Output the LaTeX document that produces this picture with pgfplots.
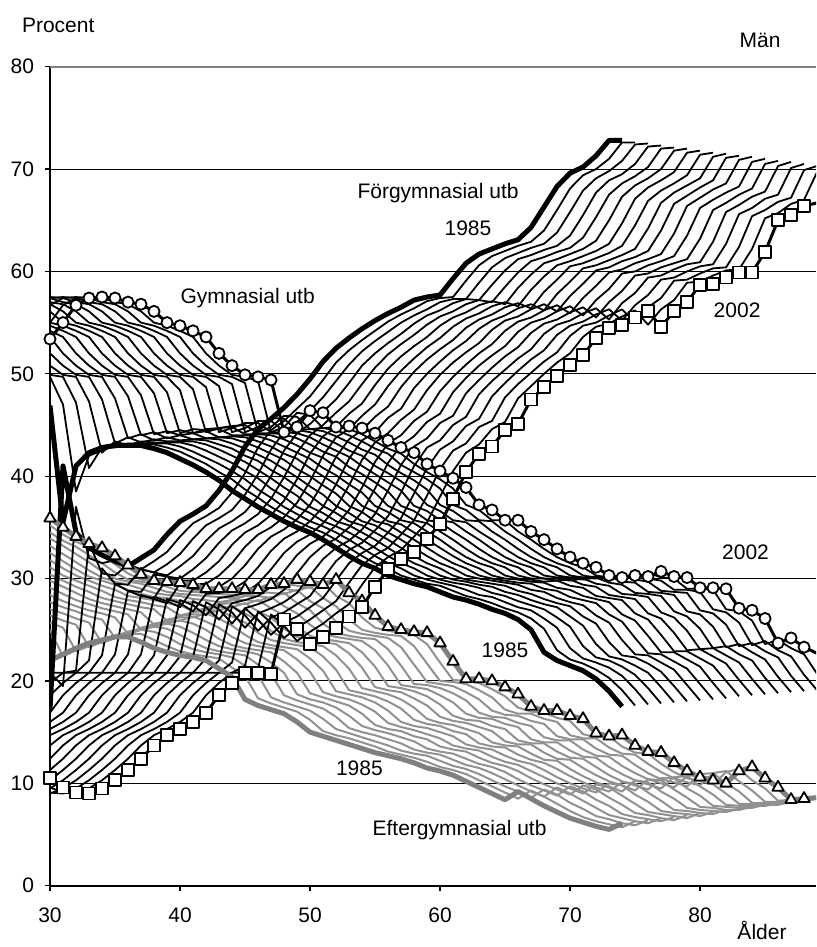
\documentclass[border=0pt]{standalone}
\usepackage{fontspec}
\setmainfont{Liberation Sans}
\usepackage{pgfplots}
\usepackage{pgfplotstable}
\pgfplotsset{compat=1.18}
\definecolor{thingray}{RGB}{145,145,145}
\definecolor{thickgray}{RGB}{128,128,128}
% rows: t = age in 1985 (cohort index); column yk = value in year 1985+k, plotted at age t+k
\pgfplotstableread{
t y0 y1 y2 y3 y4 y5 y6 y7 y8 y9 y10 y11 y12 y13 y14 y15 y16 y17
13 nan nan nan nan nan nan nan nan nan nan nan nan nan nan nan nan nan 10.5
14 nan nan nan nan nan nan nan nan nan nan nan nan nan nan nan nan 9.6 9.6
15 nan nan nan nan nan nan nan nan nan nan nan nan nan nan nan 9.1 9.1 9.1
16 nan nan nan nan nan nan nan nan nan nan nan nan nan nan 9.0 9.0 9.0 9.0
17 nan nan nan nan nan nan nan nan nan nan nan nan nan 9.5 9.5 9.5 9.5 9.5
18 nan nan nan nan nan nan nan nan nan nan nan nan 10.3 10.3 10.3 10.3 10.3 10.3
19 nan nan nan nan nan nan nan nan nan nan nan 11.3 11.3 11.3 11.3 11.3 11.3 11.3
20 nan nan nan nan nan nan nan nan nan nan 12.4 12.4 12.4 12.4 12.4 12.4 12.4 12.4
21 nan nan nan nan nan nan nan nan nan 13.7 13.7 13.7 13.7 13.7 13.7 13.7 13.7 13.7
22 nan nan nan nan nan nan nan nan 14.7 14.7 14.7 14.7 14.7 14.7 14.7 14.7 14.7 14.7
23 nan nan nan nan nan nan nan 15.3 15.3 15.3 15.3 15.3 15.3 15.3 15.3 15.3 15.3 15.3
24 nan nan nan nan nan nan 16.0 16.0 16.0 16.0 16.0 16.0 16.0 16.0 16.0 16.0 16.0 16.0
25 nan nan nan nan nan 16.9 16.9 16.9 16.9 16.9 16.9 16.9 16.9 16.9 16.9 16.9 16.9 16.9
26 nan nan nan nan 18.6 18.6 18.6 18.6 18.6 18.6 18.6 18.6 18.6 18.6 18.6 18.6 18.6 18.6
27 nan nan nan 19.8 19.8 19.8 19.8 19.8 19.8 19.8 19.8 19.8 19.8 19.8 19.8 19.8 19.8 19.8
28 nan nan 20.8 20.8 20.8 20.8 20.8 20.8 20.8 20.8 20.8 20.8 20.8 20.8 20.8 20.8 20.8 20.8
29 nan 20.8 20.8 20.8 20.8 20.8 20.8 20.8 20.8 20.8 20.8 20.8 20.8 20.8 20.8 20.8 20.8 20.8
30 17.2 19.5 21.0 22.0 22.5 22.6 22.6 22.6 22.5 22.5 22.4 22.3 22.2 22.0 21.8 21.5 21.2 20.7
31 41.0 37.0 33.5 31.0 29.5 28.8 28.4 28.2 28.0 27.9 27.8 27.7 27.5 27.3 27.1 26.8 26.5 26.0
32 34.5 32.0 30.5 29.5 28.8 28.3 28.0 27.8 27.6 27.4 27.2 27.0 26.7 26.4 26.0 25.7 25.4 25.1
33 33.0 31.5 30.3 29.4 28.7 28.1 27.6 27.2 26.8 26.4 26.0 25.6 25.2 24.9 24.5 24.2 23.9 23.6
34 32.3 31.8 31.4 30.9 30.4 30.0 29.5 29.0 28.5 28.1 27.6 27.1 26.6 26.2 25.7 25.2 24.8 24.3
35 31.7 31.3 30.9 30.6 30.2 29.8 29.4 29.0 28.6 28.3 27.9 27.5 27.1 26.7 26.3 26.0 25.6 25.2
36 31.2 30.9 30.6 30.3 30.0 29.8 29.5 29.2 28.9 28.6 28.3 28.0 27.7 27.5 27.2 26.9 26.6 26.3
37 32.0 31.7 31.4 31.2 30.9 30.6 30.3 30.0 29.7 29.5 29.2 28.9 28.6 28.3 28.1 27.8 27.5 27.2
38 32.8 32.6 32.4 32.2 32.0 31.7 31.5 31.3 31.1 30.9 30.7 30.5 30.3 30.0 29.8 29.6 29.4 29.2
39 34.3 34.1 33.9 33.7 33.5 33.3 33.1 32.9 32.7 32.5 32.3 32.1 31.9 31.7 31.5 31.3 31.1 30.9
40 35.6 35.4 35.2 34.9 34.7 34.5 34.3 34.1 33.9 33.6 33.4 33.2 33.0 32.8 32.5 32.3 32.1 31.9
41 36.3 36.1 35.9 35.6 35.4 35.2 35.0 34.8 34.6 34.3 34.1 33.9 33.7 33.5 33.2 33.0 32.8 32.6
42 37.1 36.9 36.7 36.5 36.3 36.2 36.0 35.8 35.6 35.4 35.2 35.0 34.8 34.7 34.5 34.3 34.1 33.9
43 38.6 38.4 38.2 38.0 37.8 37.6 37.4 37.2 37.0 36.9 36.7 36.5 36.3 36.1 35.9 35.7 35.5 35.3
44 40.5 40.3 40.2 40.0 39.9 39.7 39.5 39.4 39.2 39.1 38.9 38.8 38.6 38.4 38.3 38.1 38.0 37.8
45 42.9 42.8 42.6 42.5 42.3 42.2 42.0 41.9 41.7 41.6 41.4 41.3 41.1 41.0 40.8 40.7 40.5 40.4
46 44.6 44.5 44.3 44.2 44.0 43.9 43.8 43.6 43.5 43.3 43.2 43.0 42.9 42.8 42.6 42.5 42.3 42.2
47 45.6 45.4 45.3 45.1 45.0 44.8 44.6 44.5 44.3 44.2 44.0 43.9 43.7 43.5 43.4 43.2 43.1 42.9
48 46.7 46.6 46.4 46.3 46.2 46.1 45.9 45.8 45.7 45.5 45.4 45.3 45.2 45.0 44.9 44.8 44.6 44.5
49 48.0 47.8 47.7 47.5 47.3 47.1 47.0 46.8 46.6 46.5 46.3 46.1 45.9 45.8 45.6 45.4 45.3 45.1
50 49.5 49.4 49.3 49.1 49.0 48.9 48.8 48.7 48.6 48.4 48.3 48.2 48.1 48.0 47.8 47.7 47.6 47.5
51 51.2 51.1 50.9 50.8 50.6 50.5 50.3 50.2 50.0 49.9 49.7 49.6 49.4 49.3 49.1 49.0 48.8 48.7
52 52.5 52.3 52.2 52.0 51.9 51.7 51.5 51.4 51.2 51.1 50.9 50.8 50.6 50.4 50.3 50.1 50.0 49.8
53 53.5 53.3 53.2 53.0 52.9 52.7 52.6 52.4 52.3 52.1 52.0 51.8 51.7 51.5 51.4 51.2 51.1 50.9
54 54.4 54.2 54.1 53.9 53.8 53.6 53.5 53.3 53.2 53.0 52.9 52.7 52.6 52.4 52.3 52.1 52.0 51.8
55 55.2 55.1 55.0 54.9 54.8 54.7 54.6 54.5 54.4 54.3 54.2 54.1 54.0 53.9 53.8 53.7 53.6 53.5
56 55.9 55.8 55.7 55.7 55.6 55.5 55.4 55.3 55.2 55.2 55.1 55.0 54.9 54.8 54.7 54.7 54.6 54.5
57 56.5 56.4 56.3 56.2 56.1 56.0 55.9 55.8 55.7 55.6 55.5 55.4 55.3 55.2 55.1 55.0 54.9 54.8
58 57.2 57.1 57.0 56.9 56.8 56.7 56.6 56.5 56.4 56.3 56.2 56.1 56.0 55.9 55.8 55.7 55.6 55.5
59 57.5 57.4 57.3 57.3 57.2 57.1 57.0 56.9 56.8 56.8 56.7 56.6 56.5 56.4 56.3 56.3 56.2 56.1
60 57.7 57.5 57.3 57.2 57.0 56.8 56.6 56.4 56.2 56.1 55.9 55.7 55.5 55.3 55.2 55.0 54.8 54.6
61 59.3 59.1 58.9 58.7 58.5 58.4 58.2 58.0 57.8 57.6 57.4 57.2 57.0 56.9 56.7 56.5 56.3 56.1
62 60.8 60.6 60.4 60.1 59.9 59.7 59.5 59.2 59.0 58.8 58.6 58.3 58.1 57.9 57.7 57.4 57.2 57.0
63 61.7 61.5 61.3 61.2 61.0 60.8 60.6 60.5 60.3 60.1 59.9 59.8 59.6 59.4 59.2 59.1 58.9 58.7
64 62.2 62.0 61.8 61.6 61.4 61.2 61.0 60.8 60.6 60.4 60.2 60.0 59.8 59.6 59.4 59.2 59.0 58.8
65 62.7 62.5 62.3 62.1 61.9 61.7 61.5 61.3 61.1 61.0 60.8 60.6 60.4 60.2 60.0 59.8 59.6 59.4
66 63.1 62.9 62.7 62.5 62.3 62.2 62.0 61.8 61.6 61.4 61.2 61.0 60.8 60.7 60.5 60.3 60.1 59.9
67 64.3 64.0 63.8 63.5 63.3 63.0 62.7 62.5 62.2 62.0 61.7 61.5 61.2 60.9 60.7 60.4 60.2 59.9
68 66.3 66.0 65.8 65.5 65.3 65.0 64.7 64.5 64.2 64.0 63.7 63.5 63.2 62.9 62.7 62.4 62.2 61.9
69 68.3 68.1 67.9 67.7 67.5 67.3 67.1 66.9 66.7 66.6 66.4 66.2 66.0 65.8 65.6 65.4 65.2 65.0
70 69.6 69.4 69.1 68.9 68.6 68.4 68.2 67.9 67.7 67.4 67.2 67.0 66.7 66.5 66.2 66.0 65.7 65.5
71 70.2 70.0 69.8 69.5 69.3 69.1 68.9 68.6 68.4 68.2 68.0 67.7 67.5 67.3 67.1 66.8 66.6 66.4
72 71.3 71.0 70.8 70.5 70.2 70.0 69.7 69.4 69.1 68.9 68.6 68.3 68.1 67.8 67.5 67.2 67.0 66.7
73 72.8 72.6 72.4 72.2 72.0 71.8 71.6 71.4 71.2 71.1 70.9 70.7 70.5 70.3 70.1 69.9 69.7 nan
74 72.8 72.6 72.5 72.3 72.1 72.0 71.8 71.6 71.5 71.3 71.2 71.0 70.8 70.7 70.5 70.3 70.2 nan
}\Ftab
\pgfplotstableread{
t y0 y1 y2 y3 y4 y5 y6 y7 y8 y9 y10 y11 y12 y13 y14 y15 y16 y17
13 nan nan nan nan nan nan nan nan nan nan nan nan nan nan nan nan nan 53.4
14 nan nan nan nan nan nan nan nan nan nan nan nan nan nan nan nan 55.0 55.0
15 nan nan nan nan nan nan nan nan nan nan nan nan nan nan nan 56.7 56.7 56.7
16 nan nan nan nan nan nan nan nan nan nan nan nan nan nan 57.4 57.4 57.4 57.4
17 nan nan nan nan nan nan nan nan nan nan nan nan nan 57.5 57.5 57.5 57.5 57.5
18 nan nan nan nan nan nan nan nan nan nan nan nan 57.4 57.4 57.4 57.4 57.4 57.4
19 nan nan nan nan nan nan nan nan nan nan nan 57.0 57.0 57.0 57.0 57.0 57.0 57.0
20 nan nan nan nan nan nan nan nan nan nan 56.8 56.8 56.8 56.8 56.8 56.8 56.8 56.8
21 nan nan nan nan nan nan nan nan nan 56.1 56.1 56.1 56.1 56.1 56.1 56.1 56.1 56.1
22 nan nan nan nan nan nan nan nan 55.0 55.0 55.0 55.0 55.0 55.0 55.0 55.0 55.0 55.0
23 nan nan nan nan nan nan nan 54.7 54.7 54.7 54.7 54.7 54.7 54.7 54.7 54.7 54.7 54.7
24 nan nan nan nan nan nan 54.2 54.2 54.2 54.2 54.2 54.2 54.2 54.2 54.2 54.2 54.2 54.2
25 nan nan nan nan nan 53.6 53.6 53.6 53.6 53.6 53.6 53.6 53.6 53.6 53.6 53.6 53.6 53.6
26 nan nan nan nan 52.0 52.0 52.0 52.0 52.0 52.0 52.0 52.0 52.0 52.0 52.0 52.0 52.0 52.0
27 nan nan nan 50.8 50.8 50.8 50.8 50.8 50.8 50.8 50.8 50.8 50.8 50.8 50.8 50.8 50.8 50.8
28 nan nan 49.9 49.9 49.9 49.9 49.9 49.9 49.9 49.9 49.9 49.9 49.9 49.9 49.9 49.9 49.9 49.9
29 nan 49.7 49.7 49.7 49.7 49.7 49.7 49.7 49.7 49.7 49.7 49.7 49.7 49.7 49.7 49.7 49.7 49.7
30 46.9 47.0 47.2 47.3 47.5 47.6 47.8 47.9 48.1 48.2 48.4 48.5 48.7 48.8 49.0 49.1 49.3 49.4
31 35.5 38.5 40.8 42.3 43.2 43.7 44.0 44.1 44.2 44.2 44.2 44.3 44.3 44.3 44.3 44.3 44.3 44.3
32 41.0 42.0 42.8 43.4 43.8 44.1 44.3 44.4 44.5 44.6 44.6 44.7 44.7 44.7 44.8 44.8 44.8 44.8
33 42.3 42.5 42.8 43.0 43.3 43.5 43.7 44.0 44.2 44.5 44.7 44.9 45.2 45.4 45.7 45.9 46.2 46.4
34 42.8 43.0 43.2 43.4 43.6 43.8 44.0 44.2 44.4 44.6 44.8 45.0 45.2 45.4 45.6 45.8 46.0 46.2
35 43.0 43.1 43.2 43.3 43.4 43.5 43.6 43.7 43.8 44.0 44.1 44.2 44.3 44.4 44.5 44.6 44.7 44.8
36 43.0 43.1 43.2 43.3 43.4 43.6 43.7 43.8 43.9 44.0 44.1 44.2 44.3 44.5 44.6 44.7 44.8 44.9
37 43.0 43.1 43.2 43.3 43.4 43.5 43.6 43.7 43.8 43.9 44.0 44.1 44.2 44.3 44.4 44.5 44.6 44.7
38 42.7 42.8 42.9 43.0 43.1 43.1 43.2 43.3 43.4 43.5 43.6 43.7 43.8 43.8 43.9 44.0 44.1 44.2
39 42.3 42.4 42.4 42.5 42.6 42.7 42.7 42.8 42.9 42.9 43.0 43.1 43.1 43.2 43.3 43.4 43.4 43.5
40 41.7 41.8 41.8 41.9 42.0 42.0 42.1 42.2 42.2 42.3 42.3 42.4 42.5 42.5 42.6 42.7 42.7 42.8
41 41.1 41.2 41.2 41.3 41.4 41.5 41.5 41.6 41.7 41.7 41.8 41.9 41.9 42.0 42.1 42.2 42.2 42.3
42 40.4 40.4 40.5 40.5 40.6 40.6 40.7 40.7 40.8 40.8 40.9 40.9 41.0 41.0 41.1 41.1 41.2 41.2
43 39.6 39.7 39.7 39.8 39.8 39.9 39.9 40.0 40.0 40.1 40.1 40.2 40.2 40.3 40.3 40.4 40.4 40.5
44 38.6 38.7 38.7 38.8 38.9 39.0 39.0 39.1 39.2 39.2 39.3 39.4 39.4 39.5 39.6 39.7 39.7 39.8
45 37.8 37.9 37.9 38.0 38.1 38.1 38.2 38.3 38.3 38.4 38.4 38.5 38.6 38.6 38.7 38.8 38.8 38.9
46 37.0 37.0 37.0 37.0 37.0 37.1 37.1 37.1 37.1 37.1 37.1 37.1 37.1 37.2 37.2 37.2 37.2 37.2
47 36.3 36.3 36.3 36.4 36.4 36.4 36.4 36.5 36.5 36.5 36.5 36.6 36.6 36.6 36.6 36.7 36.7 36.7
48 35.6 35.6 35.6 35.6 35.6 35.6 35.6 35.6 35.6 35.7 35.7 35.7 35.7 35.7 35.7 35.7 35.7 35.7
49 35.0 35.0 35.1 35.1 35.2 35.2 35.2 35.3 35.3 35.4 35.4 35.5 35.5 35.5 35.6 35.6 35.7 35.7
50 34.5 34.5 34.5 34.5 34.5 34.5 34.5 34.5 34.5 34.6 34.6 34.6 34.6 34.6 34.6 34.6 34.6 34.6
51 33.8 33.8 33.8 33.8 33.8 33.8 33.8 33.8 33.8 33.8 33.8 33.8 33.8 33.8 33.8 33.8 33.8 33.8
52 33.0 33.0 33.0 33.0 33.0 33.0 33.0 33.0 33.0 32.9 32.9 32.9 32.9 32.9 32.9 32.9 32.9 32.9
53 32.2 32.2 32.2 32.2 32.2 32.2 32.2 32.2 32.2 32.1 32.1 32.1 32.1 32.1 32.1 32.1 32.1 32.1
54 31.5 31.5 31.5 31.5 31.5 31.5 31.5 31.5 31.5 31.5 31.5 31.5 31.5 31.5 31.5 31.5 31.5 31.5
55 31.0 31.0 31.0 31.0 31.0 31.0 31.0 31.0 31.0 31.1 31.1 31.1 31.1 31.1 31.1 31.1 31.1 31.1
56 30.3 30.3 30.3 30.3 30.3 30.3 30.3 30.3 30.3 30.3 30.3 30.3 30.3 30.3 30.3 30.3 30.3 30.3
57 29.9 29.9 29.9 29.9 29.9 29.9 30.0 30.0 30.0 30.0 30.0 30.0 30.1 30.1 30.1 30.1 30.1 30.1
58 29.5 29.5 29.6 29.6 29.7 29.7 29.8 29.8 29.9 29.9 30.0 30.0 30.1 30.1 30.2 30.2 30.3 30.3
59 29.2 29.3 29.3 29.4 29.4 29.5 29.6 29.6 29.7 29.7 29.8 29.8 29.9 30.0 30.0 30.1 30.1 30.2
60 28.7 28.8 28.9 29.1 29.2 29.3 29.4 29.5 29.6 29.8 29.9 30.0 30.1 30.2 30.4 30.5 30.6 30.7
61 28.2 28.3 28.4 28.6 28.7 28.8 28.9 29.0 29.1 29.3 29.4 29.5 29.6 29.7 29.9 30.0 30.1 30.2
62 27.9 28.0 28.2 28.3 28.4 28.5 28.7 28.8 28.9 29.1 29.2 29.3 29.4 29.6 29.7 29.8 30.0 30.1
63 27.5 27.6 27.7 27.8 27.9 28.0 28.1 28.2 28.3 28.3 28.4 28.5 28.6 28.7 28.8 28.9 29.0 29.1
64 27.0 27.1 27.2 27.4 27.5 27.6 27.7 27.9 28.0 28.1 28.2 28.4 28.5 28.6 28.7 28.9 29.0 29.1
65 26.6 26.7 26.9 27.0 27.2 27.3 27.4 27.6 27.7 27.9 28.0 28.2 28.3 28.4 28.6 28.7 28.9 29.0
66 26.0 26.1 26.1 26.2 26.3 26.3 26.4 26.5 26.5 26.6 26.6 26.7 26.8 26.8 26.9 27.0 27.0 27.1
67 25.0 25.1 25.2 25.3 25.4 25.6 25.7 25.8 25.9 26.0 26.1 26.2 26.3 26.5 26.6 26.7 26.8 26.9
68 22.8 23.0 23.2 23.4 23.6 23.8 24.0 24.2 24.4 24.5 24.7 24.9 25.1 25.3 25.5 25.7 25.9 26.1
69 22.0 22.1 22.2 22.3 22.4 22.5 22.6 22.7 22.8 22.9 23.0 23.1 23.2 23.3 23.4 23.5 23.6 23.7
70 21.5 21.7 21.8 22.0 22.1 22.3 22.5 22.6 22.8 22.9 23.1 23.2 23.4 23.6 23.7 23.9 24.0 24.2
71 21.0 21.1 21.3 21.4 21.5 21.7 21.8 21.9 22.1 22.2 22.4 22.5 22.6 22.8 22.9 23.0 23.2 23.3
72 20.2 20.3 20.5 20.6 20.8 20.9 21.1 21.2 21.4 21.5 21.7 21.8 22.0 22.1 22.3 22.4 22.6 22.7
73 19.0 19.1 19.2 19.3 19.4 19.5 19.6 19.7 19.8 20.0 20.1 20.2 20.3 20.4 20.5 20.6 20.7 nan
74 17.5 17.6 17.7 17.8 17.9 18.0 18.1 18.2 18.3 18.5 18.6 18.7 18.8 18.9 19.0 19.1 19.2 nan
}\Gtab
\pgfplotstableread{
t y0 y1 y2 y3 y4 y5 y6 y7 y8 y9 y10 y11 y12 y13 y14 y15 y16 y17
13 nan nan nan nan nan nan nan nan nan nan nan nan nan nan nan nan nan 35.9
14 nan nan nan nan nan nan nan nan nan nan nan nan nan nan nan nan 35.2 35.0
15 nan nan nan nan nan nan nan nan nan nan nan nan nan nan nan 34.5 34.3 34.1
16 nan nan nan nan nan nan nan nan nan nan nan nan nan nan 33.9 33.7 33.6 33.4
17 nan nan nan nan nan nan nan nan nan nan nan nan nan 33.2 33.2 33.1 33.1 33.0
18 nan nan nan nan nan nan nan nan nan nan nan nan 32.5 32.4 32.4 32.3 32.3 32.2
19 nan nan nan nan nan nan nan nan nan nan nan 31.8 31.7 31.6 31.6 31.5 31.4 31.3
20 nan nan nan nan nan nan nan nan nan nan 31.1 31.0 30.9 30.8 30.7 30.6 30.5 30.4
21 nan nan nan nan nan nan nan nan nan 30.4 30.3 30.3 30.2 30.1 30.0 29.9 29.9 29.8
22 nan nan nan nan nan nan nan nan 29.8 29.8 29.8 29.8 29.8 29.7 29.7 29.7 29.7 29.7
23 nan nan nan nan nan nan nan 29.1 29.2 29.2 29.3 29.3 29.4 29.4 29.5 29.5 29.6 29.6
24 nan nan nan nan nan nan 28.4 28.5 28.6 28.7 28.8 28.9 28.9 29.0 29.1 29.2 29.3 29.4
25 nan nan nan nan nan 27.7 27.8 27.9 28.0 28.1 28.2 28.3 28.5 28.6 28.7 28.8 28.9 29.0
26 nan nan nan nan 27.0 27.2 27.3 27.5 27.6 27.8 27.9 28.1 28.2 28.4 28.5 28.7 28.8 29.0
27 nan nan nan 26.4 26.6 26.8 26.9 27.1 27.3 27.5 27.7 27.9 28.1 28.3 28.4 28.6 28.8 29.0
28 nan nan 25.7 25.9 26.1 26.3 26.6 26.8 27.0 27.2 27.4 27.6 27.8 28.0 28.3 28.5 28.7 28.9
29 nan 25.0 25.2 25.5 25.7 26.0 26.2 26.5 26.7 27.0 27.2 27.4 27.7 27.9 28.2 28.4 28.7 28.9
30 22.0 22.4 22.9 23.3 23.7 24.2 24.6 25.0 25.5 25.9 26.4 26.8 27.2 27.7 28.1 28.5 29.0 29.4
31 22.6 23.0 23.4 23.8 24.2 24.6 25.0 25.4 25.8 26.3 26.7 27.1 27.5 27.9 28.3 28.7 29.1 29.5
32 23.2 23.6 24.0 24.4 24.8 25.2 25.6 26.0 26.4 26.7 27.1 27.5 27.9 28.3 28.7 29.1 29.5 29.9
33 23.7 24.1 24.4 24.8 25.1 25.5 25.8 26.2 26.5 26.9 27.2 27.6 27.9 28.3 28.6 29.0 29.3 29.7
34 24.0 24.3 24.6 25.0 25.3 25.6 25.9 26.2 26.5 26.9 27.2 27.5 27.8 28.1 28.5 28.8 29.1 29.4
35 24.3 24.6 25.0 25.3 25.6 25.9 26.3 26.6 26.9 27.3 27.6 27.9 28.2 28.6 28.9 29.2 29.6 29.9
36 24.3 24.6 24.8 25.1 25.3 25.6 25.8 26.1 26.3 26.6 26.8 27.1 27.3 27.6 27.8 28.1 28.3 28.6
37 23.8 24.0 24.3 24.5 24.7 25.0 25.2 25.4 25.7 25.9 26.2 26.4 26.6 26.9 27.1 27.3 27.6 27.8
38 23.2 23.4 23.6 23.8 24.0 24.1 24.3 24.5 24.7 24.9 25.1 25.3 25.5 25.6 25.8 26.0 26.2 26.4
39 22.8 22.9 23.1 23.2 23.4 23.5 23.7 23.8 24.0 24.1 24.3 24.4 24.6 24.7 24.9 25.0 25.2 25.3
40 22.5 22.6 22.8 22.9 23.1 23.2 23.4 23.5 23.7 23.8 24.0 24.1 24.3 24.4 24.6 24.7 24.9 25.0
41 22.3 22.4 22.6 22.7 22.9 23.0 23.2 23.3 23.5 23.6 23.8 23.9 24.1 24.2 24.4 24.5 24.7 24.8
42 22.0 22.2 22.3 22.5 22.6 22.8 23.0 23.1 23.3 23.4 23.6 23.7 23.9 24.1 24.2 24.4 24.5 24.7
43 21.2 21.3 21.5 21.6 21.8 21.9 22.1 22.2 22.4 22.5 22.7 22.8 23.0 23.1 23.3 23.4 23.6 23.7
44 20.4 20.5 20.6 20.7 20.8 20.8 20.9 21.0 21.1 21.2 21.3 21.4 21.5 21.5 21.6 21.7 21.8 21.9
45 18.2 18.3 18.4 18.6 18.7 18.8 18.9 19.0 19.1 19.3 19.4 19.5 19.6 19.7 19.9 20.0 20.1 20.2
46 17.6 17.8 17.9 18.1 18.2 18.4 18.5 18.7 18.8 19.0 19.1 19.3 19.4 19.6 19.7 19.9 20.0 20.2
47 17.2 17.4 17.5 17.7 17.9 18.0 18.2 18.4 18.5 18.7 18.9 19.0 19.2 19.3 19.5 19.7 19.8 20.0
48 16.8 17.0 17.1 17.3 17.4 17.6 17.7 17.9 18.0 18.2 18.3 18.5 18.6 18.8 18.9 19.1 19.2 19.4
49 16.0 16.2 16.3 16.5 16.6 16.8 17.0 17.1 17.3 17.4 17.6 17.7 17.9 18.1 18.2 18.4 18.5 18.7
50 15.0 15.1 15.3 15.4 15.6 15.7 15.9 16.0 16.2 16.3 16.5 16.6 16.8 16.9 17.1 17.2 17.4 17.5
51 14.6 14.7 14.9 15.0 15.2 15.3 15.5 15.6 15.8 15.9 16.1 16.2 16.4 16.5 16.7 16.8 17.0 17.1
52 14.2 14.4 14.5 14.7 14.9 15.1 15.2 15.4 15.6 15.7 15.9 16.1 16.3 16.4 16.6 16.8 16.9 17.1
53 13.8 14.0 14.1 14.3 14.5 14.6 14.8 15.0 15.1 15.3 15.5 15.6 15.8 15.9 16.1 16.3 16.4 16.6
54 13.4 13.6 13.7 13.9 14.1 14.3 14.4 14.6 14.8 14.9 15.1 15.3 15.5 15.6 15.8 16.0 16.1 16.3
55 13.0 13.1 13.2 13.3 13.4 13.6 13.7 13.8 13.9 14.0 14.1 14.2 14.3 14.5 14.6 14.7 14.8 14.9
56 12.7 12.8 12.9 13.0 13.1 13.3 13.4 13.5 13.6 13.7 13.8 13.9 14.0 14.2 14.3 14.4 14.5 14.6
57 12.4 12.5 12.7 12.8 12.9 13.1 13.2 13.3 13.5 13.6 13.8 13.9 14.0 14.2 14.3 14.4 14.6 14.7
58 12.0 12.1 12.2 12.3 12.4 12.5 12.6 12.7 12.8 12.9 13.0 13.1 13.2 13.3 13.4 13.5 13.6 13.7
59 11.5 11.6 11.7 11.8 11.9 12.0 12.1 12.2 12.3 12.3 12.4 12.5 12.6 12.7 12.8 12.9 13.0 13.1
60 11.2 11.3 11.4 11.5 11.6 11.7 11.8 11.9 12.0 12.2 12.3 12.4 12.5 12.6 12.7 12.8 12.9 13.0
61 10.8 10.9 10.9 11.0 11.1 11.2 11.2 11.3 11.4 11.4 11.5 11.6 11.6 11.7 11.8 11.9 11.9 12.0
62 10.2 10.3 10.3 10.4 10.4 10.5 10.6 10.6 10.7 10.7 10.8 10.8 10.9 11.0 11.0 11.1 11.1 11.2
63 9.6 9.7 9.7 9.8 9.8 9.9 10.0 10.0 10.1 10.1 10.2 10.2 10.3 10.4 10.4 10.5 10.5 10.6
64 9.0 9.1 9.2 9.2 9.3 9.4 9.5 9.5 9.6 9.7 9.8 9.8 9.9 10.0 10.1 10.1 10.2 10.3
65 8.4 8.5 8.6 8.7 8.8 8.9 9.0 9.1 9.2 9.2 9.3 9.4 9.5 9.6 9.7 9.8 9.9 10.0
66 9.2 9.3 9.4 9.6 9.7 9.8 9.9 10.0 10.1 10.3 10.4 10.5 10.6 10.7 10.9 11.0 11.1 11.2
67 8.5 8.7 8.9 9.0 9.2 9.4 9.6 9.8 10.0 10.1 10.3 10.5 10.7 10.9 11.0 11.2 11.4 11.6
68 7.8 8.0 8.1 8.3 8.4 8.6 8.8 8.9 9.1 9.2 9.4 9.5 9.7 9.9 10.0 10.2 10.3 10.5
69 7.2 7.3 7.5 7.6 7.8 7.9 8.0 8.2 8.3 8.5 8.6 8.8 8.9 9.0 9.2 9.3 9.5 9.6
70 6.6 6.7 6.8 6.9 7.0 7.1 7.2 7.3 7.4 7.6 7.7 7.8 7.9 8.0 8.1 8.2 8.3 8.4
71 6.2 6.3 6.5 6.6 6.7 6.9 7.0 7.1 7.3 7.4 7.6 7.7 7.8 8.0 8.1 8.2 8.4 8.5
72 5.8 6.0 6.1 6.3 6.5 6.6 6.8 7.0 7.1 7.3 7.4 7.6 7.8 7.9 8.1 8.3 8.4 8.6
73 5.5 5.7 5.9 6.1 6.3 6.4 6.6 6.8 7.0 7.2 7.4 7.6 7.8 7.9 8.1 8.3 8.5 nan
74 6.1 6.3 6.4 6.6 6.7 6.9 7.1 7.2 7.4 7.5 7.7 7.9 8.0 8.2 8.3 8.5 8.6 nan
}\Etab
\begin{document}
\begin{tikzpicture}[font=\fontsize{10.5}{12.6}\selectfont]
\begin{axis}[
  at={(0,0)}, anchor=south west,
  scale only axis, width=383pt, height=409.5pt,
  xmin=30, xmax=88.92, ymin=0, ymax=80,
  axis x line*=bottom, axis y line*=left,
  every outer x axis line/.append style={-},
  every outer y axis line/.append style={-},
  axis line style={black, line width=0.8pt},
  xtick={30,40,50,60,70,80}, ytick={0,10,20,30,40,50,60,70,80},
  ymajorgrids, grid style={black, line width=0.5pt},
  tick align=outside, major tick length=2.5pt,
  tick style={black, line width=0.6pt},
  tick label style={font=\fontsize{10.5}{12.6}\selectfont},
  xticklabel style={yshift=-5pt},
  yticklabel style={xshift=-2pt},
  /pgf/number format/assume math mode=true,
  clip=true, clip mode=individual,
  line join=round,
]
\pgfplotsinvokeforeach{1,...,16}{
  \addplot[thingray, line width=1pt] table[x expr=\thisrow{t}+#1, y=y#1] {\Etab};
}
\pgfplotsinvokeforeach{1,...,16}{
  \addplot[black, line width=0.9pt] table[x expr=\thisrow{t}+#1, y=y#1] {\Ftab};
}
\pgfplotsinvokeforeach{1,...,16}{
  \addplot[black, line width=0.9pt] table[x expr=\thisrow{t}+#1, y=y#1] {\Gtab};
}
\addplot[thickgray, line width=2.5pt] table[x=t, y=y0] {\Etab};
\addplot[black, line width=2.5pt] table[x=t, y=y0] {\Ftab};
\addplot[black, line width=2.5pt] table[x=t, y=y0] {\Gtab};
\addplot[thickgray, line width=2.5pt, mark=triangle*, mark size=3.3pt,
  mark options={fill=white, draw=black, line width=0.9pt}]
  table[x expr=\thisrow{t}+17, y=y17] {\Etab};
\addplot[black, line width=1.5pt, mark=square*, mark size=3pt,
  mark options={fill=white, draw=black, line width=0.9pt}]
  table[x expr=\thisrow{t}+17, y=y17] {\Ftab};
\addplot[black, line width=1.5pt, mark=*, mark size=2.8pt,
  mark options={fill=white, draw=black, line width=0.9pt}]
  table[x expr=\thisrow{t}+17, y=y17] {\Gtab};
\node at (axis cs:59.85,67.7) {Förgymnasial utb};
\node at (axis cs:62.15,64.2) {1985};
\node at (axis cs:45.2,57.4) {Gymnasial utb};
\node at (axis cs:82.85,56.2) {2002};
\node at (axis cs:83.5,32.6) {2002};
\node at (axis cs:65,23.0) {1985};
\node at (axis cs:53.8,11.5) {1985};
\node at (axis cs:61.5,5.4) {Eftergymnasial utb};
\end{axis}
\draw[thickgray, line width=1pt] (0,409.5pt) -- (383pt,409.5pt);
\node[anchor=west] at (-17.5pt,430.35pt) {Procent};
\node at (355pt,422.85pt) {Män};
\node[anchor=south] at (356pt,-30.4pt) {Ålder};
\pgfresetboundingbox
\path[use as bounding box] (-25pt,-30.65pt) rectangle (383pt,442.85pt);
\end{tikzpicture}
\end{document}
